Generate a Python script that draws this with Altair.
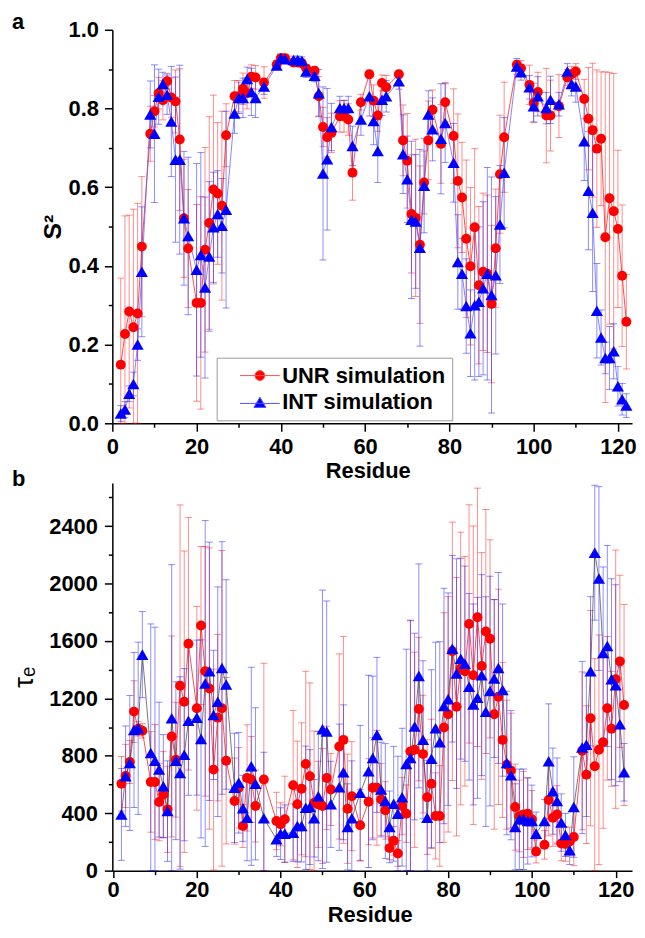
import altair as alt
import pandas as pd

# ---------------- data ----------------
SERIES = ["UNR simulation", "INT simulation"]

# panel a : order parameter S^2
RES_A = [2, 3, 4, 5, 6, 7, 9, 10, 11, 12, 13, 14, 15, 16, 17, 18, 20, 21, 22, 23, 24, 25, 26, 27,
         29, 30, 31, 32, 33, 34, 36, 39, 40, 41, 43, 44, 45, 46, 48, 49, 50, 51, 52, 54, 55, 56, 57,
         59, 61, 62, 63, 64, 65, 68, 69, 70, 71, 72, 73, 74, 75, 76, 78, 79, 81, 82, 83, 84, 85, 86,
         87, 88, 89, 90, 91, 92, 93, 96, 97, 99, 100, 101, 103, 104, 106, 108, 109, 110, 112, 113,
         114, 115, 116, 117, 118, 119, 120, 121, 122]
UNR_A = [0.149, 0.227, 0.284, 0.244, 0.279, 0.449, 0.736, 0.793, 0.839, 0.821, 0.869, 0.828, 0.818,
         0.721, 0.521, 0.444, 0.306, 0.306, 0.441, 0.509, 0.594, 0.584, 0.553, 0.732, 0.831, 0.831,
         0.850, 0.839, 0.881, 0.879, 0.866, 0.912, 0.928, 0.928, 0.917, 0.917, 0.915, 0.902, 0.896,
         0.831, 0.753, 0.727, 0.738, 0.780, 0.780, 0.772, 0.637, 0.816, 0.887, 0.820, 0.782, 0.865,
         0.854, 0.887, 0.719, 0.667, 0.532, 0.522, 0.454, 0.612, 0.719, 0.797, 0.710, 0.816, 0.730,
         0.616, 0.574, 0.469, 0.399, 0.498, 0.351, 0.385, 0.380, 0.303, 0.445, 0.633, 0.727, 0.911,
         0.902, 0.860, 0.814, 0.842, 0.782, 0.782, 0.806, 0.879, 0.887, 0.894, 0.824, 0.774, 0.745,
         0.698, 0.723, 0.473, 0.572, 0.539, 0.494, 0.375, 0.258]
UNR_A_ERR = [0.22, 0.30, 0.245, 0.30, 0.28, 0.178, 0.07, 0.04, 0.04, 0.05, 0.02, 0.05, 0.08, 0.18,
             0.15, 0.15, 0.25, 0.27, 0.26, 0.27, 0.24, 0.18, 0.24, 0.08, 0.04, 0.04, 0.04, 0.04,
             0.03, 0.03, 0.04, 0.01, 0.01, 0.01, 0.01, 0.01, 0.01, 0.01, 0.01, 0.05, 0.05, 0.05,
             0.05, 0.04, 0.04, 0.04, 0.07, 0.02, 0.01, 0.04, 0.04, 0.02, 0.03, 0.01, 0.09, 0.12,
             0.15, 0.20, 0.20, 0.08, 0.10, 0.05, 0.10, 0.05, 0.12, 0.17, 0.14, 0.20, 0.20, 0.20,
             0.20, 0.20, 0.20, 0.20, 0.15, 0.15, 0.14, 0.01, 0.02, 0.05, 0.05, 0.05, 0.12, 0.09,
             0.08, 0.02, 0.02, 0.02, 0.05, 0.13, 0.17, 0.20, 0.17, 0.42, 0.32, 0.35, 0.20, 0.18, 0.12]
INT_A = [0.025, 0.035, 0.075, 0.100, 0.200, 0.385, 0.785, 0.736, 0.830, 0.862, 0.835, 0.767, 0.670,
         0.670, 0.521, 0.476, 0.390, 0.428, 0.345, 0.424, 0.498, 0.532, 0.502, 0.543, 0.787, 0.827,
         0.827, 0.875, 0.842, 0.827, 0.856, 0.909, 0.928, 0.925, 0.923, 0.923, 0.921, 0.894, 0.883,
         0.839, 0.635, 0.671, 0.753, 0.801, 0.801, 0.801, 0.705, 0.772, 0.831, 0.768, 0.692, 0.822,
         0.831, 0.869, 0.684, 0.620, 0.517, 0.513, 0.446, 0.604, 0.785, 0.747, 0.723, 0.763, 0.662,
         0.410, 0.380, 0.298, 0.229, 0.300, 0.309, 0.343, 0.380, 0.326, 0.376, 0.505, 0.637, 0.907,
         0.892, 0.854, 0.806, 0.831, 0.801, 0.822, 0.811, 0.894, 0.862, 0.856, 0.717, 0.591, 0.535,
         0.286, 0.218, 0.166, 0.166, 0.183, 0.094, 0.061, 0.045]
INT_A_ERR = [0.02, 0.02, 0.02, 0.03, 0.04, 0.165, 0.085, 0.175, 0.07, 0.03, 0.05, 0.14, 0.21, 0.24,
             0.17, 0.20, 0.27, 0.26, 0.23, 0.19, 0.14, 0.11, 0.12, 0.25, 0.05, 0.04, 0.05, 0.03,
             0.06, 0.05, 0.02, 0.01, 0.01, 0.01, 0.01, 0.01, 0.01, 0.015, 0.015, 0.06, 0.22, 0.18,
             0.06, 0.03, 0.02, 0.03, 0.05, 0.04, 0.05, 0.06, 0.08, 0.04, 0.04, 0.02, 0.10, 0.11,
             0.20, 0.17, 0.25, 0.12, 0.06, 0.08, 0.14, 0.10, 0.10, 0.12, 0.09, 0.12, 0.11, 0.19,
             0.19, 0.22, 0.27, 0.30, 0.20, 0.15, 0.14, 0.02, 0.02, 0.03, 0.04, 0.05, 0.04, 0.06,
             0.03, 0.02, 0.03, 0.04, 0.10, 0.15, 0.20, 0.12, 0.07, 0.04, 0.08, 0.07, 0.05, 0.04, 0.03]

# panel b : internal correlation time tau_e
RES_B = [2, 3, 4, 5, 6, 7, 9, 10, 11, 12, 13, 14, 15, 16, 17, 18, 20, 21, 22, 23, 24, 25, 26, 27,
         29, 30, 31, 32, 33, 34, 36, 39, 40, 41, 43, 44, 45, 46, 47, 48, 49, 50, 51, 52, 54, 55, 56,
         57, 59, 61, 62, 63, 64, 65, 66, 67, 68, 69, 70, 71, 72, 73, 74, 75, 76, 77, 78, 79, 80, 81,
         82, 83, 84, 85, 86, 87, 88, 89, 90, 91, 92, 93, 94, 95, 96, 97, 98, 99, 100, 101, 103, 104,
         105, 106, 107, 108, 109, 110, 112, 113, 114, 115, 116, 117, 118, 119, 120, 121, 122]
UNR_B = [605, 660, 757, 1108, 988, 974, 618, 618, 478, 531, 427, 935, 773, 1288, 1177, 1581, 1131,
         1708, 1389, 1269, 704, 1066, 1131, 766, 485, 577, 311, 646, 635, 450, 635, 346, 323, 358,
         595, 462, 570, 743, 658, 473, 462, 450, 646, 565, 865, 911, 431, 519, 316, 480, 577, 577,
         496, 420, 157, 208, 120, 450, 397, 831, 842, 1126, 812, 512, 605, 381, 381, 997, 1089,
         1528, 1142, 1408, 1389, 1719, 1361, 1765, 1426, 1666, 1615, 1089, 1211, 911, 738, 697,
         443, 381, 392, 397, 358, 134, 180, 492, 369, 392, 189, 185, 203, 235, 835, 669, 1062, 727,
         842, 895, 1131, 988, 1334, 1458, 1154]
UNR_B_ERR = [190, 220, 150, 215, 50, 50, 350, 400, 270, 300, 300, 700, 400, 1260, 1050, 880, 710,
             550, 870, 980, 700, 580, 1100, 580, 300, 280, 150, 370, 300, 250, 810, 200, 150, 300,
             520, 440, 460, 646, 650, 500, 300, 400, 360, 250, 645, 720, 380, 380, 250, 300, 350,
             400, 250, 200, 80, 100, 90, 200, 200, 910, 680, 500, 410, 400, 450, 300, 350, 800, 820,
             900, 900, 950, 800, 830, 1040, 900, 790, 850, 690, 800, 750, 540, 450, 400, 300, 250,
             300, 250, 200, 80, 100, 250, 200, 200, 120, 120, 100, 200, 550, 480, 750, 750, 800, 600,
             500, 400, 900, 600, 700]
INT_B = [392, 658, 750, 980, 992, 1505, 819, 766, 704, 588, 415, 1062, 766, 681, 808, 1045, 1066,
         918, 1304, 1389, 1085, 1177, 1412, 1297, 577, 612, 434, 369, 727, 605, 365, 219, 258, 258,
         265, 311, 311, 438, 443, 365, 519, 985, 969, 462, 581, 685, 305, 365, 542, 692, 785, 946,
         565, 485, 305, 466, 397, 512, 743, 785, 1004, 1357, 912, 369, 780, 992, 895, 1147, 1195,
         1546, 1373, 1477, 1442, 1281, 1158, 1204, 1362, 1108, 1251, 1338, 1412, 1258, 750, 665,
         305, 358, 358, 346, 346, 258, 346, 762, 554, 485, 335, 249, 143, 443, 858, 877, 1389, 2215,
         2035, 1516, 1565, 1334, 1292, 1020, 685]
INT_B_ERR = [320, 350, 470, 540, 600, 300, 900, 930, 470, 360, 350, 1070, 550, 670, 600, 520, 540,
             690, 1135, 900, 450, 800, 880, 730, 380, 350, 230, 300, 690, 530, 460, 120, 180, 200,
             200, 250, 250, 430, 400, 270, 450, 970, 910, 300, 440, 470, 300, 400, 470, 670, 570,
             540, 330, 400, 250, 400, 400, 480, 800, 960, 650, 780, 550, 400, 620, 600, 700, 820,
             740, 650, 800, 700, 680, 650, 700, 700, 700, 800, 800, 550, 665, 600, 500, 450, 300,
             350, 350, 300, 250, 150, 150, 400, 300, 300, 200, 150, 100, 350, 600, 500, 520, 470,
             640, 600, 700, 700, 700, 400, 200]

# axis ticks
A_Y_MAJOR = [0.0, 0.2, 0.4, 0.6, 0.8, 1.0]
A_Y_MINOR = [0.1, 0.3, 0.5, 0.7, 0.9]
B_Y_MAJOR = [0, 400, 800, 1200, 1600, 2000, 2400]
B_Y_MINOR = [200, 600, 1000, 1400, 1800, 2200, 2600]
X_MAJOR = [0, 20, 40, 60, 80, 100, 120]
X_MINOR = [10, 30, 50, 70, 90, 110]

FONT = "Liberation Sans"
RED = "#FF0000"
BLUE = "#0000FF"

UNR_PATH = "M-4,0H4M1,0A1,1,0,1,1,-1,0A1,1,0,1,1,1,0Z"
INT_PATH = "M-4,0.2H4M0,-1.05L1.2,1L-1.2,1Z"

PLOT_W = 523


def frame(res, unr, unr_err, intv, int_err):
    return pd.DataFrame({
        "res": res,
        "unr": unr,
        "unr_lo": [max(0.0, v - e) for v, e in zip(unr, unr_err)],
        "unr_hi": [v + e for v, e in zip(unr, unr_err)],
        "intv": intv,
        "intv_lo": [max(0.0, v - e) for v, e in zip(intv, int_err)],
        "intv_hi": [v + e for v, e in zip(intv, int_err)],
    })


def main_axis(values, fmt, tick_size, tick_pad, title, title_x, title_y, title_size,
              title_weight, orient):
    return alt.Axis(values=values, format=fmt, orient=orient, grid=False,
                    tickSize=tick_size, tickWidth=1.5, domainWidth=1.5, domainColor="black",
                    tickColor="black", labelColor="black", labelFont=FONT,
                    labelFontSize=22, labelFontWeight="bold", labelPadding=tick_pad,
                    labelFlush=False, title=title, titleFont=FONT, titleFontSize=title_size,
                    titleFontWeight=title_weight, titleColor="black", titleX=title_x,
                    titleY=title_y, titleBaseline="alphabetic", titleAlign="center")


def minor_axis(values, orient):
    return alt.Axis(values=values, orient=orient, grid=False, labels=False, domain=False,
                    tickSize=4, tickWidth=1.5, tickColor="black", title=None)


def panel(df, width, height, xdom, ydom, axes, int_line_color, letter, letter_y, legend):
    xs = alt.Scale(domain=xdom, nice=False, zero=False)
    ys = alt.Scale(domain=ydom, nice=False, zero=False)
    base = alt.Chart(df)
    layers = []

    def X(axis=None):
        return alt.X("res:Q", scale=xs, axis=axis)

    # error bars
    for key, col in (("unr", RED), ("intv", BLUE)):
        layers.append(base.mark_rule(color=col, strokeWidth=1, opacity=0.45).encode(
            x=X(), y=alt.Y(f"{key}_lo:Q", scale=ys, axis=None), y2=f"{key}_hi:Q"))
        layers.append(base.transform_fold([f"{key}_lo", f"{key}_hi"], as_=["end", "cap"])
                      .mark_tick(orient="horizontal", size=7, thickness=1, color=col, opacity=0.45)
                      .encode(x=X(), y=alt.Y("cap:Q", scale=ys, axis=None)))
    # connecting lines
    layers.append(base.mark_line(color=RED, strokeWidth=1, opacity=0.7).encode(
        x=X(), y=alt.Y("unr:Q", scale=ys, axis=None)))
    layers.append(base.mark_line(color=int_line_color, strokeWidth=1, opacity=0.7).encode(
        x=X(), y=alt.Y("intv:Q", scale=ys, axis=None)))
    # markers (these carry the axes)
    layers.append(base.mark_point(filled=True, shape="circle", size=100, color=RED, opacity=1).encode(
        x=X(axes["xmain"]), y=alt.Y("unr:Q", scale=ys, axis=axes["ymain"])))
    layers.append(base.mark_point(filled=True, shape="triangle-up", size=150, color=BLUE, opacity=1).encode(
        x=X(axes["xminor"]), y=alt.Y("intv:Q", scale=ys, axis=axes["yminor"])))
    # panel letter
    layers.append(alt.Chart(pd.DataFrame({"label": [letter]})).mark_text(
        align="left", baseline="alphabetic", font=FONT, fontSize=22, fontWeight="bold",
        color="black").encode(text="label:N", x=alt.value(-101), y=alt.value(letter_y)))
    if legend:
        leg = alt.Legend(orient="none", legendX=105, legendY=330, title=None, labelFont=FONT,
                         labelFontSize=22, labelFontWeight="bold", labelColor="black",
                         labelLimit=400, padding=7, rowPadding=5, symbolOffset=25.5,
                         labelOffset=11.5, symbolSize=100, symbolStrokeWidth=1, symbolOpacity=1,
                         strokeColor="#999999", fillColor="white", cornerRadius=0)
        ldf = pd.DataFrame({"series": SERIES})
        layers.append(alt.Chart(ldf).mark_point(filled=True, opacity=0, size=100).encode(
            fill=alt.Fill("series:N", scale=alt.Scale(domain=SERIES, range=[RED, BLUE]), legend=leg),
            stroke=alt.Stroke("series:N", scale=alt.Scale(domain=SERIES, range=["#FF5050", "#5050FF"]), legend=leg),
            shape=alt.Shape("series:N", scale=alt.Scale(domain=SERIES, range=[UNR_PATH, INT_PATH]), legend=leg)))
    return alt.layer(*layers).resolve_axis(x="independent", y="independent").properties(
        width=width, height=height)


dfa = frame(RES_A, UNR_A, UNR_A_ERR, INT_A, INT_A_ERR)
dfb = frame(RES_B, UNR_B, UNR_B_ERR, INT_B, INT_B_ERR)

axes_a = {
    "xmain": main_axis(X_MAJOR, "d", 8, 5.5, "Residue", 257, 55, 22, "bold", "bottom"),
    "xminor": minor_axis(X_MINOR, "bottom"),
    "ymain": main_axis(A_Y_MAJOR, ".1f", 8, 6, "S\u00b2", -52, 198, 25, "bold", "left"),
    "yminor": minor_axis(A_Y_MINOR, "left"),
}
axes_b = {
    "xmain": main_axis(X_MAJOR, "d", 7, 2, "Residue", 259, 51, 22, "bold", "bottom"),
    "xminor": minor_axis(X_MINOR, "bottom"),
    "ymain": main_axis(B_Y_MAJOR, "d", 8, 7, "\u03c4\u2091", -80, 195, 28, "normal", "left"),
    "yminor": minor_axis(B_Y_MINOR, "left"),
}

pa = panel(dfa, PLOT_W, 396, [0, 123.35], [0, 1.0], axes_a, "#5050FF", "a", -1, True)
pb = panel(dfb, PLOT_W, 390, [-0.17, 123.9], [0, 2700], axes_b, "#404040", "b", 3.3, False)

chart = alt.vconcat(pa, pb, spacing=60.2, bounds="flush").resolve_scale(
    x="independent", y="independent", fill="independent", stroke="independent",
    shape="independent").properties(
    padding={"left": 3, "top": 0, "right": 0, "bottom": 0}
).configure_view(stroke=None)

chart.save("out.html", embed_options={"renderer": "svg", "actions": False})
